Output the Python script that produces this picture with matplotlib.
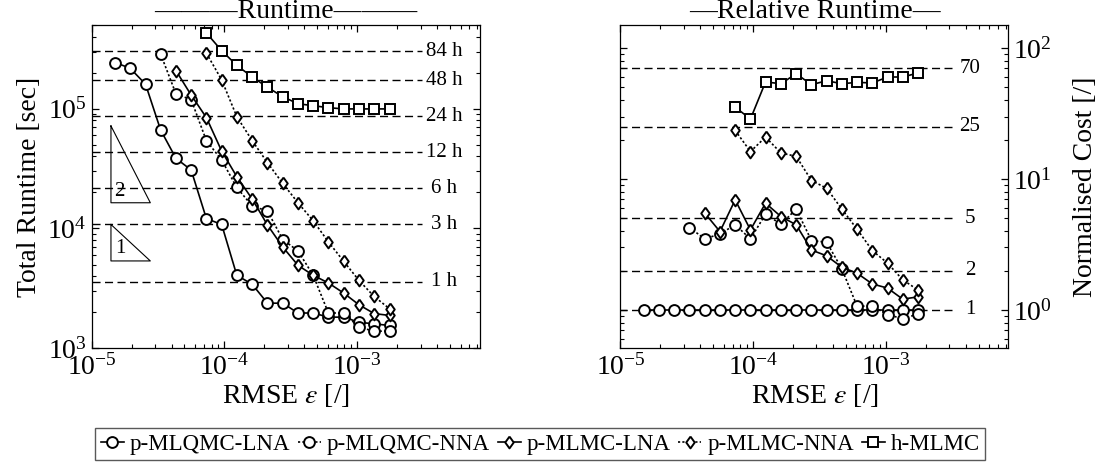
import matplotlib
matplotlib.use("Agg")
import matplotlib.pyplot as plt
from matplotlib.ticker import NullFormatter

plt.rcParams['font.family'] = ['Liberation Serif', 'DejaVu Serif']
plt.rcParams['mathtext.fontset'] = 'stix'

# RMSE grid (shared by all methods, every series ends at the last value)
eps = [1.50e-5, 1.95e-5, 2.55e-5, 3.31e-5, 4.32e-5, 5.62e-5, 7.32e-5, 9.54e-5,
       1.24e-4, 1.62e-4, 2.11e-4, 2.75e-4, 3.58e-4, 4.66e-4, 6.07e-4, 7.91e-4,
       1.03e-3, 1.34e-3, 1.75e-3]

# total runtime [sec]
qmc_lna_rt = [2.43e5, 2.18e5, 1.60e5, 6.65e4, 3.85e4, 3.08e4, 1.21e4, 1.08e4, 4.07e3,
              3.42e3, 2.38e3, 2.38e3, 1.97e3, 1.97e3, 1.82e3, 1.82e3, 1.65e3, 1.60e3, 1.55e3]
qmc_nna_rt = [2.86e5, 1.33e5, 1.19e5, 5.41e4, 3.73e4, 2.20e4, 1.54e4, 1.40e4, 8.09e3,
              6.50e3, 4.07e3, 1.97e3, 1.97e3, 1.50e3, 1.39e3, 1.39e3]
mlmc_lna_rt = [2.08e5, 1.30e5, 8.43e4, 4.43e4, 2.71e4, 1.76e4, 1.07e4, 7.01e3, 4.93e3,
               4.07e3, 3.51e3, 2.89e3, 2.31e3, 1.95e3, 1.88e3]
mlmc_nna_rt = [2.91e5, 1.74e5, 8.59e4, 5.41e4, 3.54e4, 2.38e4, 1.64e4, 1.16e4, 7.73e3,
               5.32e3, 3.69e3, 2.71e3, 2.14e3]
hmlmc_rt = [4.29e5, 3.05e5, 2.30e5, 1.84e5, 1.51e5, 1.26e5, 1.10e5, 1.06e5, 1.02e5,
            9.96e4, 9.96e4, 9.96e4, 9.96e4]

# normalised cost [/]
qmc_lna_rel = [1, 1, 1, 1, 1, 1, 1, 1, 1, 1, 1, 1, 1, 1, 1, 1, 1, 1, 1]
qmc_nna_rel = [4.26, 3.49, 3.81, 4.47, 3.49, 5.39, 4.52, 5.89, 3.39, 3.29, 2.06, 1.07,
               1.07, 0.92, 0.86, 0.93]
mlmc_lna_rel = [5.49, 3.97, 6.93, 4.09, 6.54, 5.17, 4.47, 2.87, 2.59, 2.12, 1.91, 1.58,
                1.47, 1.21, 1.26]
mlmc_nna_rel = [23.5, 16.2, 20.9, 15.8, 14.9, 9.74, 8.5, 5.89, 4.14, 2.84, 2.28, 1.70, 1.42]
hmlmc_rel = [35.4, 28.7, 55.1, 53.4, 63.7, 52.5, 56.3, 53.4, 54.7, 54.1, 60.1, 60.1, 64.5]

labels = ['p-MLQMC-LNA', 'p-MLQMC-NNA', 'p-MLMC-LNA', 'p-MLMC-NNA', 'h-MLMC']

hours = [84, 48, 24, 12, 6, 3, 1]
hour_sec = [302400, 172800, 86400, 43200, 21600, 10800, 3600]
rel_levels = [70, 25, 5, 2, 1]

# slope triangles (x, y) in data units
tri_x = [1.40e-5, 1.40e-5, 2.77e-5, 1.40e-5]
tri2_y = [7.18e4, 1.64e4, 1.64e4, 7.18e4]
tri1_y = [1.08e4, 5.36e3, 5.36e3, 1.08e4]

dot = (0, (1.3, 1.3))
diamond = [(0, 1), (0.72, 0), (0, -1), (-0.72, 0), (0, 1)]
styles = [dict(marker='o', ls='-', ms=7.8),
          dict(marker='o', ls=dot, ms=7.8),
          dict(marker=diamond, ls='-', ms=8.5),
          dict(marker=diamond, ls=dot, ms=8.5),
          dict(marker='s', ls='-', ms=7.4)]

fig = plt.figure(figsize=(11.07, 4.66), dpi=100)
ax1 = fig.add_axes([0.0827, 0.2526, 0.3509, 0.6938])
ax2 = fig.add_axes([0.5605, 0.2526, 0.3505, 0.6938])

def series(ax, data):
    for vals, st, lab in zip(data, styles, labels):
        ax.plot(eps[len(eps) - len(vals):], vals, color='black', lw=1.2,
                mfc='white', mec='black', mew=1.4, label=lab, **st)

series(ax1, [qmc_lna_rt, qmc_nna_rt, mlmc_lna_rt, mlmc_nna_rt, hmlmc_rt])
series(ax2, [qmc_lna_rel, qmc_nna_rel, mlmc_lna_rel, mlmc_nna_rel, hmlmc_rel])

dash = (0, (5.8, 3.2))
for h, s in zip(hours, hour_sec):
    ax1.hlines(s, 1e-5, 3.1e-3, colors='black', linestyles=dash, lw=1.0, zorder=1)
    ax1.text(4.5e-3, s, f'{h} h', ha='center', va='center', fontsize=15)
for r in rel_levels:
    ax2.hlines(r, 0.98e-5, 3.16e-3, colors='black', linestyles=dash, lw=1.0, zorder=1)
    ax2.text(4.3e-3, r, f'{r}', ha='center', va='center', fontsize=15)

ax1.plot(tri_x, tri2_y, color='black', lw=0.8)
ax1.plot(tri_x, tri1_y, color='black', lw=0.8)
ax1.text(1.49e-5, 1.69e4, '2', fontsize=15, ha='left', va='bottom')
ax1.text(1.51e-5, 5.71e3, '1', fontsize=15, ha='left', va='bottom')

for ax in (ax1, ax2):
    ax.set_xscale('log')
    ax.set_yscale('log')
    ax.set_xlim(1e-5, 8.4e-3)
    ax.tick_params(which='both', direction='in', top=True, right=True, labelsize=20)
    ax.tick_params(which='major', length=5, width=0.9)
    ax.tick_params(which='minor', length=3, width=0.8)
    ax.tick_params(axis='x', pad=4)
    ax.xaxis.set_minor_formatter(NullFormatter())
    ax.yaxis.set_minor_formatter(NullFormatter())
    ax.set_xlabel(r'RMSE $\varepsilon$ [/]', fontsize=20, labelpad=1)
    for sp in ax.spines.values():
        sp.set_linewidth(0.9)

ax1.set_ylim(1e3, 5.0e5)
ax1.set_ylabel('Total Runtime [sec]', fontsize=20, labelpad=4)
ax1.set_title('———Runtime———', fontsize=20, pad=5)

ax2.set_ylim(0.51, 150)
ax2.tick_params(axis='y', labelleft=False, labelright=True)
ax2.yaxis.set_label_position('right')
ax2.set_ylabel('Normalised Cost [/]', fontsize=20, labelpad=15)
ax2.set_title('—Relative Runtime—', fontsize=20, pad=5)

h, l = ax1.get_legend_handles_labels()
fig.legend(h, l, loc='center', bbox_to_anchor=(0.488, 0.047), ncol=5, fontsize=16.5,
           frameon=True, fancybox=False, edgecolor='0.35', framealpha=1,
           handlelength=1.0, handletextpad=0.25, columnspacing=0.35, borderpad=0.25,
           borderaxespad=0)

fig.savefig('out.png', dpi=100)
